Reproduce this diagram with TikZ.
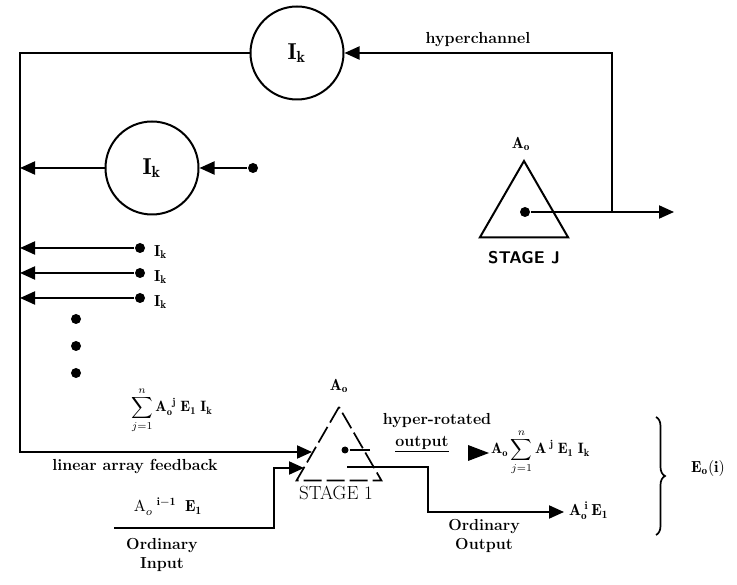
\documentclass[tikz,border=0pt]{standalone}
\usepackage{fontspec}
\usepackage{graphicx}
\usetikzlibrary{arrows.meta,shapes.geometric,decorations.pathreplacing}
\newcommand{\mscale}[2]{\scalebox{#1}{#2}}
\begin{document}
\begin{tikzpicture}[x=1pt,y=-1pt, line width=2pt,
  tri/.style={-{Triangle[length=15pt,width=13pt]}},
  ring/.style={circle,draw,minimum size=93pt,inner sep=0pt},
  blob/.style={circle,fill,inner sep=0pt,minimum size=10pt},
  lbl/.style={font=\bfseries\fontsize{16}{17}\selectfont, inner sep=1pt},
  mth/.style={inner sep=1pt},
  stagebox/.style={regular polygon,regular polygon sides=3,draw,inner sep=0pt}
]
\useasboundingbox (0,0) rectangle (737,585);

% circles
\node[ring] (c1) at (297,53) {\mscale{2.3}{$\mathbf{I_k}$}};
\node[ring] (c2) at (152,168) {\mscale{2.3}{$\mathbf{I_k}$}};

% stage J
\node[stagebox,minimum size=102pt] (sJ) at (524,212) {};
\node[blob] (dJ) at (525,212) {};
\node[mth] (aJ) at (521,144) {\mscale{1.6}{$\mathbf{A_o}$}};
\node[font=\sffamily\bfseries\fontsize{17}{18}\selectfont] (tJ) at (524,258) {STAGE J};
\coordinate (oJ) at (674,212);
\coordinate (bJ) at (612,212);
\coordinate (tR) at (612,53);
\draw[tri] (dJ) -- (oJ);
\draw[tri] (bJ) -- (tR) -- (c1.east);
\node[lbl] (hc) at (478,40) {hyperchannel};

% left bus
\coordinate (tL) at (20,53);
\coordinate (bL) at (20,452);
\coordinate (s1a) at (312,452);
\draw[tri] (c1.west) -- (tL) -- (bL) -- (s1a);

% circle 2 feed
\node[blob] (d0) at (253,168) {};
\coordinate (l0) at (20,168);
\draw[tri] (d0) -- (c2.east);
\draw[tri] (c2.west) -- (l0);

% three I_k inputs
\foreach \i/\y in {1/248,2/273,3/298}{
  \node[blob] (d\i) at (140,\y) {};
  \coordinate (l\i) at (20,\y);
  \draw[tri] (d\i) -- (l\i);
  \node[mth,anchor=west] (k\i) at (152,\y+4) {\mscale{1.6}{$\mathbf{I_k}$}};
}
\foreach \i/\y in {1/319,2/346,3/373}{
  \node[blob] (v\i) at (76,\y) {};
}

% sum label
\node[mth] (sum) at (172,410) {\mscale{1.5}{$\displaystyle\sum_{j=1}^{n} \mathbf{A_o^{\;\,j}\;E_1\;I_k}$}};
\node[lbl] (laf) at (135,467) {linear array feedback};

% stage 1
\node[stagebox,minimum size=98pt,line width=1.7pt,dash pattern=on 18pt off 5pt] (s1) at (339,456) {};
\node[mth] (a1) at (339,386) {\mscale{1.6}{$\mathbf{A_o}$}};
\node[font=\fontsize{19}{20}\selectfont] (t1) at (336,493) {STAGE 1};
\node[blob,minimum size=7pt] (d1s) at (345,450) {};
\coordinate (e1s) at (370,450);
\draw (d1s) -- (e1s);

% ordinary input
\coordinate (in0) at (114,528);
\coordinate (inc) at (274,528);
\coordinate (inu) at (274,468);
\coordinate (s1b) at (304,468);
\draw[tri] (in0) -- (inc) -- (inu) -- (s1b);
\node[mth] (ain) at (168,507) {\mscale{1.6}{$\mathrm{A}_o^{\;\;\;\mathbf{i-1}}\;\;\mathbf{E_1}$}};
\node[lbl,align=center] (oin) at (162,555) {Ordinary\\[2pt]Input};

% ordinary output
\coordinate (o0) at (347,467);
\coordinate (o1) at (428,467);
\coordinate (o2) at (428,512);
\coordinate (o3) at (564,512);
\draw[tri] (o0) -- (o1) -- (o2) -- (o3);
\node[lbl,align=center] (oout) at (484,536) {Ordinary\\[2pt]Output};
\node[mth,anchor=west] (aout) at (567,511) {\mscale{1.6}{$\mathbf{A_o^{\;i}\,E_1}$}};

% hyper-rotated output
\node[lbl] (hr) at (437,421) {hyper-rotated};
\node[lbl] (hro) at (422,444) {\underline{output}};
\coordinate (hA) at (468,445);
\coordinate (hB) at (489,453);
\coordinate (hC) at (468,461);
\fill (hA) -- (hB) -- (hC) -- cycle;
\node[mth,anchor=west] (hexp) at (489,452) {\mscale{1.5}{$\mathbf{A_o}\displaystyle\sum_{j=1}^{n} \mathbf{A^{\;j}\;E_{1}\;I_k}$}};

% brace
\coordinate (br0) at (656,417);
\coordinate (br1) at (656,535);
\draw[line width=1.7pt,decorate,decoration={brace,amplitude=9pt}] (br0) -- (br1);
\node[mth] (eo) at (708,468) {\mscale{1.6}{$\mathbf{E_o(i)}$}};
\end{tikzpicture}
\end{document}
